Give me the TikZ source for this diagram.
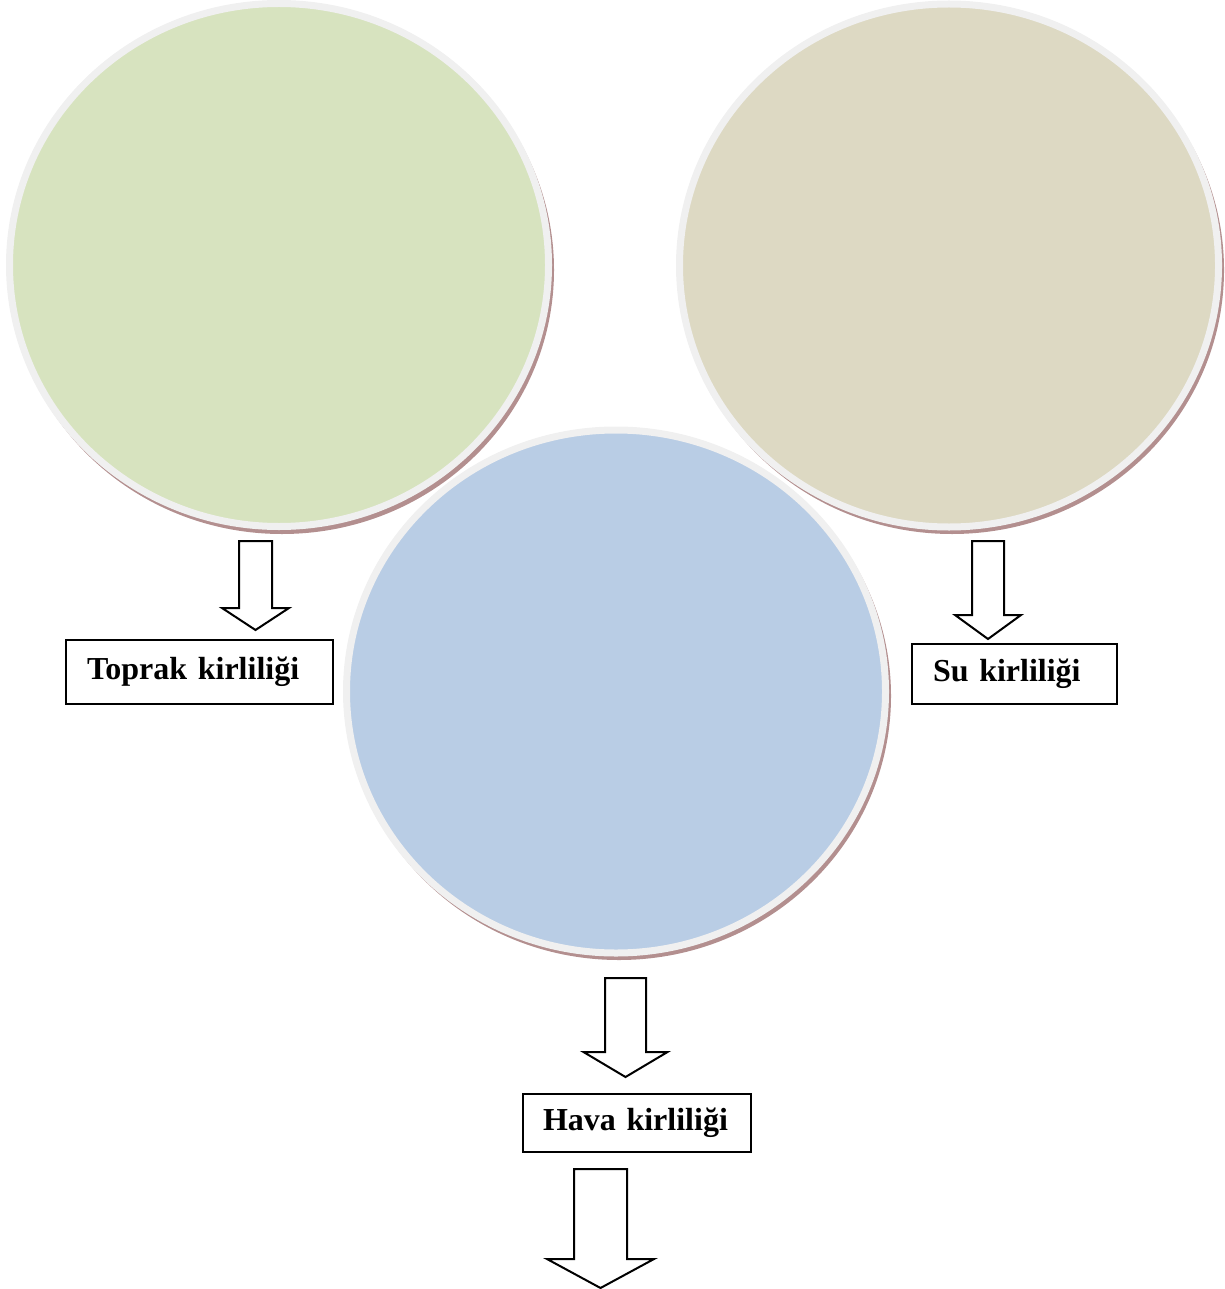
\documentclass[tikz,border=0pt]{standalone}
\usepackage{fontspec}
\setmainfont{Liberation Serif}
\usetikzlibrary{shapes.geometric}
\definecolor{greenc}{HTML}{D7E3BF}
\definecolor{beigec}{HTML}{DDD9C3}
\definecolor{bluec}{HTML}{B9CDE5}
\definecolor{ringc}{HTML}{F0F0F0}
\definecolor{shadowc}{HTML}{B38F8F}
\tikzset{
  bubble/.style={ellipse, inner sep=0pt, minimum width=539pt, minimum height=523pt, draw=ringc, line width=7pt},
  labelbox/.style={draw=black, line width=2pt, inner ysep=0pt, align=left, anchor=north west,
    font=\fontsize{32}{36}\selectfont\bfseries},
  blockarrow/.style={draw=black, line width=2pt, fill=white, line join=miter}
}
\newcommand\barrow[7]{% name, cx, top, heady, tipy, shaft half, head half
  \coordinate (#1) at (#2,#3);
  \draw[blockarrow] ([xshift=-#6pt]#1) -- ([xshift=#6pt]#1) -- (#2+#6,#4) -- (#2+#7,#4) -- (#2,#5)
    -- (#2-#7,#4) -- (#2-#6,#4) -- cycle;
}
\begin{document}
\begin{tikzpicture}[x=1pt,y=-1pt]
\useasboundingbox (0,0) rectangle (1224,1289);
% shadows
\fill[shadowc] (282,270) ellipse [x radius=272, y radius=264];
\fill[shadowc] (952,270) ellipse [x radius=272, y radius=264];
% top circles
\node[bubble, fill=greenc] (green) at (279,265) {};
\node[bubble, fill=beigec] (beige) at (949,265.5) {};
% middle circle
\fill[shadowc] (619,696) ellipse [x radius=272, y radius=264];
\node[bubble, fill=bluec] (blue) at (616,691.5) {};
% boxes
\node[labelbox, inner xsep=21pt, text width=225pt, minimum height=64pt] (toprak) at (65,639) {Toprak kirliliği};
\node[labelbox, inner xsep=21pt, text width=163pt, minimum height=60pt] (su) at (911,643) {Su kirliliği};
\node[labelbox, inner xsep=20pt, text width=188pt, minimum height=58pt] (hava) at (522,1093) {Hava kirliliği};
% arrows
\barrow{a1}{255.5}{541}{608}{630}{16.5}{33.5}
\barrow{a2}{988}{541}{615}{639}{16}{33}
\barrow{a3}{625.5}{978}{1052}{1077}{20.5}{42}
\barrow{a4}{600.5}{1169}{1259}{1288}{26.5}{53.5}
\end{tikzpicture}
\end{document}
